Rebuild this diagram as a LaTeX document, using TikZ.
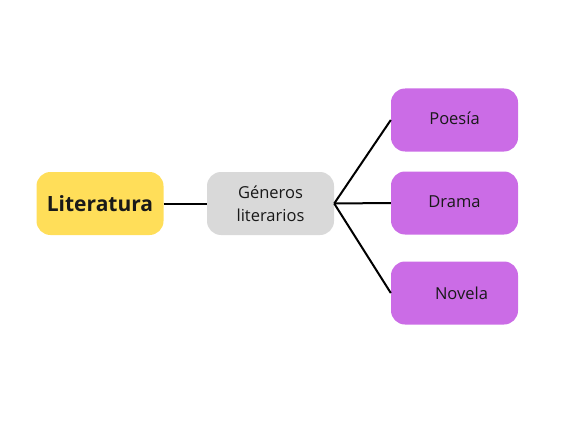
\documentclass[tikz,border=0pt]{standalone}
\usepackage{fontspec}
\setmainfont{Open Sans}
\definecolor{litYellow}{HTML}{FFDE59}
\definecolor{genGray}{HTML}{D9D9D9}
\definecolor{kindPurple}{HTML}{CB6CE6}
\begin{document}
\begin{tikzpicture}[x=1pt, y=1pt, yscale=-1,
    box/.style={rounded corners=14pt, minimum width=127pt, minimum height=63pt,
        align=center, text=black!90, inner sep=0pt},
    kind/.style={box, fill=kindPurple, font=\fontsize{16.5}{23}\selectfont},
    link/.style={line width=2pt, black}]
    % page frame
    \useasboundingbox (0, 0) rectangle (567, 425);
    % title box
    \node [box, fill=litYellow, font=\bfseries\fontsize{21}{25}\selectfont] (lit) at (100, 203.5) {Literatura};
    % middle box
    \node [box, fill=genGray, font=\fontsize{16.5}{23}\selectfont] (gen) at (270.5, 203.5) {Géneros\\literarios};
    % genre boxes
    \node [kind] (poe) at (454.5, 120) {\raisebox{4.5pt}{Poesía}};
    \node [kind] (dra) at (454.5, 203) {\raisebox{2.5pt}{Drama}};
    \node [kind] (nov) at (454.5, 293) {\hspace{14pt}Novela};
    % links
    \draw [link] (lit) -- (gen);
    \draw [link] (gen.east) -- (poe.west);
    \draw [link] (gen.east) -- (dra.west);
    \draw [link] (gen.east) -- (nov.west);
\end{tikzpicture}
\end{document}
